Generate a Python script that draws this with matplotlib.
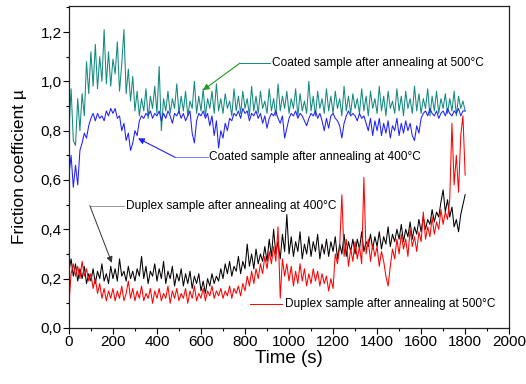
import numpy as np
import matplotlib
matplotlib.use("Agg")
import matplotlib.pyplot as plt
from matplotlib.ticker import MultipleLocator, FuncFormatter

plt.rcParams['font.family'] = ['Liberation Sans', 'DejaVu Sans']

# time grid (s)
time_s = list(range(0, 1810, 10))

coated_500 = [
    0.80, 0.97, 0.76, 0.74, 0.93, 0.80, 0.95, 0.86, 1.08, 0.95,
    1.12, 0.98, 1.15, 0.97, 1.10, 1.00, 1.21, 0.99, 1.12, 0.98,
    1.09, 1.03, 1.16, 0.96, 1.07, 1.21, 0.95, 1.05, 0.92, 1.02,
    0.88, 0.96, 0.86, 0.93, 0.88, 0.97, 0.85, 0.94, 0.89, 0.98,
    0.87, 1.06, 0.80, 0.93, 0.88, 0.96, 0.87, 0.93, 0.89, 0.99,
    0.87, 0.94, 0.88, 0.96, 0.86, 0.92, 0.89, 1.00, 0.87, 0.94,
    0.88, 0.97, 0.86, 0.93, 0.89, 0.96, 0.87, 0.99, 0.88, 0.93,
    0.87, 0.95, 0.89, 0.92, 0.86, 0.97, 0.88, 0.94, 0.87, 0.96,
    0.89, 0.93, 0.86, 0.98, 0.88, 0.94, 0.87, 0.96, 0.89, 0.92,
    0.87, 0.97, 0.88, 0.93, 0.86, 0.99, 0.88, 0.94, 0.89, 0.96,
    0.87, 0.93, 0.89, 0.97, 0.86, 0.95, 0.88, 0.92, 0.87, 1.00,
    0.88, 0.94, 0.86, 0.96, 0.89, 0.93, 0.87, 0.97, 0.88, 0.94,
    0.87, 0.96, 0.89, 0.93, 0.86, 0.98, 0.88, 0.94, 0.87, 0.95,
    0.89, 0.93, 0.87, 0.97, 0.88, 0.94, 0.86, 0.96, 0.89, 0.93,
    0.87, 0.98, 0.88, 0.94, 0.86, 0.96, 0.89, 0.92, 0.87, 0.97,
    0.88, 0.94, 0.86, 0.96, 0.89, 0.93, 0.87, 0.98, 0.88, 0.95,
    0.87, 0.93, 0.89, 0.97, 0.86, 0.94, 0.88, 0.96, 0.87, 0.93,
    0.89, 0.95, 0.87, 0.93, 0.88, 0.96, 0.86, 0.94, 0.89, 0.92,
    0.88,
]

coated_400 = [
    0.62, 0.70, 0.57, 0.66, 0.58, 0.72, 0.75, 0.79, 0.77, 0.82,
    0.85, 0.87, 0.84, 0.87, 0.85, 0.86, 0.84, 0.88, 0.86, 0.89,
    0.87, 0.89, 0.85, 0.86, 0.80, 0.83, 0.76, 0.79, 0.72, 0.75,
    0.80, 0.78, 0.84, 0.86, 0.85, 0.87, 0.86, 0.88, 0.85, 0.87,
    0.86, 0.88, 0.84, 0.87, 0.85, 0.88, 0.86, 0.83, 0.87, 0.86,
    0.88, 0.85, 0.87, 0.84, 0.86, 0.88, 0.79, 0.75, 0.84, 0.87,
    0.86, 0.88, 0.85, 0.87, 0.82, 0.86, 0.78, 0.84, 0.73, 0.80,
    0.77, 0.83, 0.80, 0.85, 0.84, 0.87, 0.86, 0.88, 0.85, 0.89,
    0.87, 0.88, 0.84, 0.87, 0.86, 0.88, 0.85, 0.87, 0.83, 0.86,
    0.81, 0.85, 0.87, 0.86, 0.88, 0.85, 0.83, 0.86, 0.77, 0.81,
    0.85, 0.87, 0.86, 0.88, 0.85, 0.87, 0.86, 0.84, 0.82, 0.85,
    0.87, 0.86, 0.88, 0.85, 0.87, 0.84, 0.80, 0.85, 0.81, 0.86,
    0.87, 0.85, 0.84, 0.82, 0.77, 0.83, 0.86, 0.88, 0.86, 0.87,
    0.86, 0.84, 0.87, 0.85, 0.86, 0.83, 0.80, 0.85, 0.78, 0.84,
    0.80, 0.85, 0.78, 0.83, 0.79, 0.84, 0.77, 0.82, 0.80, 0.85,
    0.78, 0.83, 0.79, 0.84, 0.80, 0.83, 0.78, 0.76, 0.82, 0.79,
    0.85, 0.87, 0.88, 0.86, 0.89, 0.87, 0.86, 0.88, 0.85, 0.87,
    0.88, 0.86, 0.89, 0.87, 0.86, 0.88, 0.87, 0.89, 0.86, 0.88,
    0.88,
]

duplex_400 = [
    0.23, 0.28, 0.21, 0.26, 0.19, 0.24, 0.20, 0.25, 0.18, 0.22,
    0.19, 0.24, 0.18, 0.23, 0.20, 0.26, 0.19, 0.22, 0.18, 0.25,
    0.20, 0.24, 0.19, 0.28, 0.21, 0.23, 0.19, 0.25, 0.20, 0.23,
    0.19, 0.24, 0.21, 0.29, 0.20, 0.25, 0.18, 0.23, 0.21, 0.26,
    0.19, 0.24, 0.20, 0.27, 0.18, 0.23, 0.20, 0.25, 0.17, 0.22,
    0.19, 0.24, 0.17, 0.22, 0.18, 0.23, 0.16, 0.21, 0.18, 0.22,
    0.15, 0.19, 0.14, 0.20, 0.17, 0.22, 0.18, 0.21, 0.19, 0.24,
    0.20, 0.26, 0.22, 0.27, 0.21, 0.25, 0.23, 0.29, 0.22, 0.27,
    0.24, 0.34, 0.25, 0.30, 0.24, 0.32, 0.26, 0.30, 0.27, 0.33,
    0.27, 0.36, 0.29, 0.40, 0.30, 0.35, 0.28, 0.38, 0.31, 0.46,
    0.30, 0.37, 0.29, 0.35, 0.31, 0.39, 0.28, 0.34, 0.30, 0.37,
    0.29, 0.35, 0.31, 0.38, 0.28, 0.34, 0.30, 0.36, 0.29, 0.35,
    0.31, 0.37, 0.28, 0.34, 0.30, 0.38, 0.29, 0.35, 0.31, 0.36,
    0.30, 0.36, 0.32, 0.39, 0.31, 0.35, 0.33, 0.38, 0.32, 0.37,
    0.33, 0.39, 0.32, 0.37, 0.34, 0.41, 0.33, 0.38, 0.35, 0.40,
    0.36, 0.42, 0.35, 0.40, 0.37, 0.43, 0.36, 0.41, 0.38, 0.44,
    0.39, 0.45, 0.40, 0.44, 0.42, 0.48, 0.43, 0.47, 0.45, 0.51,
    0.56, 0.47, 0.52, 0.45, 0.49, 0.41, 0.44, 0.39, 0.46, 0.50,
    0.54,
]

duplex_500 = [
    0.10, 0.22, 0.26, 0.21, 0.25, 0.20, 0.27, 0.21, 0.24, 0.19,
    0.22, 0.16, 0.20, 0.14, 0.18, 0.12, 0.16, 0.11, 0.15, 0.12,
    0.16, 0.11, 0.15, 0.12, 0.17, 0.11, 0.14, 0.19, 0.12, 0.16,
    0.11, 0.15, 0.12, 0.17, 0.11, 0.14, 0.12, 0.16, 0.10, 0.15,
    0.12, 0.16, 0.11, 0.14, 0.12, 0.17, 0.10, 0.15, 0.12, 0.16,
    0.11, 0.14, 0.12, 0.16, 0.10, 0.15, 0.12, 0.17, 0.11, 0.14,
    0.12, 0.16, 0.11, 0.15, 0.13, 0.17, 0.12, 0.15, 0.13, 0.16,
    0.12, 0.15, 0.13, 0.17, 0.12, 0.16, 0.14, 0.17, 0.13, 0.18,
    0.15, 0.21, 0.17, 0.23, 0.18, 0.24, 0.20, 0.26, 0.22, 0.29,
    0.24, 0.31, 0.26, 0.33, 0.27, 0.41, 0.12, 0.28, 0.21, 0.26,
    0.19, 0.25, 0.17, 0.23, 0.18, 0.26, 0.19, 0.24, 0.17, 0.22,
    0.18, 0.24, 0.19, 0.23, 0.17, 0.22, 0.18, 0.21, 0.15, 0.20,
    0.16, 0.30, 0.26, 0.33, 0.54, 0.29, 0.36, 0.25, 0.32, 0.27,
    0.35, 0.28, 0.33, 0.26, 0.61, 0.30, 0.36, 0.27, 0.34, 0.29,
    0.33, 0.25, 0.31, 0.27, 0.21, 0.17, 0.25, 0.32, 0.28, 0.36,
    0.30, 0.38, 0.32, 0.36, 0.29, 0.40, 0.33, 0.37, 0.31, 0.39,
    0.35, 0.47, 0.36, 0.41, 0.37, 0.45, 0.38, 0.43, 0.40, 0.48,
    0.42, 0.47, 0.44, 0.52, 0.83, 0.58, 0.70, 0.55, 0.78, 0.86,
    0.62,
]

x_ticks = [0, 200, 400, 600, 800, 1000, 1200, 1400, 1600, 1800, 2000]
y_ticks = [0.0, 0.2, 0.4, 0.6, 0.8, 1.0, 1.2]

c_teal = '#13897f'
c_blue = '#1f1fff'
c_black = '#000000'
c_red = '#ff0000'

fig = plt.figure(figsize=(5.26, 3.84), dpi=100)
ax = fig.add_axes([0.131, 0.146, 0.837, 0.838])

ax.plot(time_s, coated_500, color=c_teal, lw=0.75)
ax.plot(time_s, coated_400, color=c_blue, lw=0.75)
ax.plot(time_s, duplex_400, color=c_black, lw=0.75)
ax.plot(time_s, duplex_500, color=c_red, lw=0.75)

ax.set_xlim(0, 2000)
ax.set_ylim(0, 1.305)
ax.set_xticks(x_ticks)
ax.set_yticks(y_ticks)
ax.xaxis.set_minor_locator(MultipleLocator(100))
ax.yaxis.set_minor_locator(MultipleLocator(0.1))
ax.yaxis.set_major_formatter(FuncFormatter(lambda v, p: f"{v:.1f}".replace('.', ',')))
ax.tick_params(which='both', direction='out', top=False, right=False, labelsize=11, pad=1)
ax.tick_params(which='major', length=4, width=0.8)
ax.tick_params(which='minor', length=2.5, width=0.8)
for s in ax.spines.values():
    s.set_linewidth(0.9)
    s.set_color('#222222')

ax.set_xlabel('Time (s)', fontsize=13.5, labelpad=1)
ax.set_ylabel('Friction coefficient µ', fontsize=12.5, labelpad=10)

fs = 8.6
# Coated 500
ax.plot([777, 915], [1.074, 1.074], color=c_teal, lw=0.7)
ax.annotate('', xy=(609, 0.964), xytext=(777, 1.074),
            arrowprops=dict(arrowstyle='-|>', color='#1e9a1e', lw=0.8,
                            mutation_scale=9, shrinkA=0, shrinkB=0))
ax.text(922, 1.074, 'Coated sample after annealing at 500°C', fontsize=fs,
        va='center', ha='left')

# Coated 400
ax.plot([482, 630], [0.692, 0.692], color='#7a7aff', lw=0.7)
ax.annotate('', xy=(314, 0.769), xytext=(482, 0.692),
            arrowprops=dict(arrowstyle='-|>', color=c_blue, lw=0.8,
                            mutation_scale=9, shrinkA=0, shrinkB=0))
ax.text(636, 0.692, 'Coated sample after annealing at 400°C', fontsize=fs,
        va='center', ha='left')

# Duplex 400
ax.plot([95, 250], [0.496, 0.496], color='#999999', lw=0.7)
ax.annotate('', xy=(195, 0.264), xytext=(95, 0.496),
            arrowprops=dict(arrowstyle='-|>', color='#333333', lw=0.7,
                            mutation_scale=9, shrinkA=0, shrinkB=0))
ax.text(259, 0.496, 'Duplex sample after annealing at 400°C', fontsize=fs,
        va='center', ha='left')

# Duplex 500
ax.plot([823, 968], [0.098, 0.098], color=c_red, lw=0.7)
ax.text(982, 0.098, 'Duplex sample after annealing at 500°C', fontsize=fs,
        va='center', ha='left')

fig.savefig('out.png', dpi=100)
